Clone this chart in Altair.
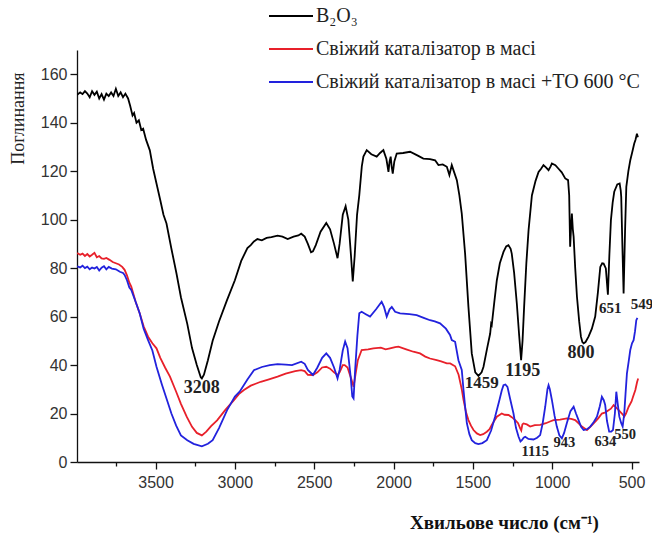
import altair as alt
import pandas as pd

# ---------------- data ----------------
series_names = ["B₂O₃", "Свіжий каталізатор в масі", "Свіжий каталізатор в масі +ТО 600 °С"]
series_colors = ["#000000", "#e8202a", "#2222dd"]

b2o3_wn = [3994, 3975, 3960, 3945, 3930, 3915, 3900, 3885, 3870, 3855, 3840, 3825, 3810, 3795, 3780,
           3765, 3750, 3735, 3720, 3705, 3690, 3673, 3660, 3645, 3635, 3620, 3605, 3590, 3578, 3560,
           3536, 3515, 3494, 3470, 3450, 3431, 3400, 3368, 3340, 3300, 3270, 3240, 3215, 3208, 3195,
           3170, 3140, 3100, 3049, 3000, 2960, 2921, 2900, 2880, 2858, 2830, 2800, 2770, 2731, 2700,
           2667, 2630, 2600, 2582, 2560, 2540, 2520, 2508, 2490, 2460, 2424, 2400, 2375, 2353, 2340,
           2320, 2302, 2285, 2268, 2257, 2245, 2230, 2216, 2200, 2190, 2169, 2140, 2106, 2085, 2064,
           2045, 2032, 2025, 2018, 2012, 2005, 1995, 1980, 1940, 1896, 1850, 1812, 1770, 1738, 1717,
           1690, 1664, 1648, 1633, 1615, 1601, 1585, 1570, 1549, 1528, 1507, 1485, 1465, 1445, 1433,
           1410, 1391, 1385, 1381, 1365, 1349, 1330, 1307, 1290, 1276, 1262, 1255, 1240, 1223, 1208,
           1196, 1187, 1177, 1163, 1149, 1128, 1105, 1086, 1070, 1055, 1038, 1023, 1010, 1002, 980,
           960, 940, 918, 900, 893, 887, 881, 876, 870, 865, 855, 844, 830, 819, 810,
           802, 790, 771, 750, 729, 712, 697, 685, 676, 662, 655, 649, 640, 630, 619,
           609, 590, 575, 568, 565, 558, 550, 541, 533, 520, 508, 495, 483, 475, 466, 460]
b2o3_val = [151.5, 152.5, 151.8, 153, 152, 150.5, 153, 151.5, 152.8, 150, 151.8, 149.5, 152, 151, 152.5,
            151, 154, 151, 152.5, 150.5, 152, 150, 147, 143, 144, 140, 141, 137, 137.5, 133,
            128.6, 121, 114.9, 108, 102, 98.4, 88, 77.8, 68, 57, 47, 40, 35, 34.5, 36,
            42, 50, 58, 66.9, 75, 83, 88.3, 89.5, 91, 92, 91.5, 92.5, 92.8, 93.4, 93,
            92, 93, 93.5, 94.2, 93, 90, 86.5, 86.9, 89.5, 95, 98.6, 96, 90, 84.1, 90,
            102, 105.5, 100, 85, 74.5, 85, 102, 110, 122, 126, 128.7, 127, 126, 127.5, 128.7,
            125, 119.7, 124, 126, 122, 119, 124, 127.3, 127.5, 128, 126.5, 125.2, 125, 124.5, 122.5,
            122.8, 121.8, 118.4, 122.5, 119, 116.3, 110, 102.5, 86, 64, 44.8, 37, 35.5, 37, 39.3,
            47, 53, 57, 56.5, 66, 75, 82, 86.7, 89, 89.5, 88, 86, 78, 65.4, 52,
            42, 50, 64, 82, 95.7, 110, 116, 119.7, 121, 122.5, 121.5, 120.4, 122, 123.2, 122.5,
            121, 119.5, 117, 116.3, 110, 88.8, 97, 102.5, 96, 93, 80, 68.2, 58, 51.7, 49.5,
            49, 49.5, 51.7, 55, 60, 70, 80.5, 82, 81.9, 79.9, 74, 69, 85, 99.8, 107,
            111.5, 114.5, 114.9, 112, 109.4, 90, 69.5, 95, 113.5, 120, 124.5, 128, 131.4, 133, 135.5, 134]

fresh_wn = [3994, 3975, 3960, 3945, 3930, 3915, 3900, 3885, 3870, 3855, 3840, 3825, 3810, 3790, 3770,
            3750, 3730, 3710, 3695, 3680, 3665, 3653, 3625, 3600, 3575, 3547, 3520, 3494, 3470, 3440,
            3409, 3370, 3340, 3303, 3270, 3240, 3208, 3180, 3150, 3112, 3060, 3006, 2975, 2943, 2900,
            2837, 2790, 2731, 2680, 2620, 2582, 2560, 2540, 2508, 2480, 2450, 2424, 2400, 2375, 2353,
            2340, 2320, 2308, 2290, 2265, 2252, 2240, 2225, 2201, 2160, 2127, 2080, 2050, 2022, 1990,
            1969, 1920, 1875, 1833, 1800, 1770, 1728, 1700, 1664, 1643, 1612, 1590, 1570, 1559, 1543,
            1528, 1512, 1496, 1475, 1454, 1435, 1412, 1395, 1381, 1365, 1349, 1330, 1318, 1300, 1275,
            1255, 1233, 1215, 1202, 1195, 1188, 1181, 1160, 1139, 1110, 1076, 1040, 1010, 992, 950,
            908, 880, 855, 835, 813, 795, 781, 760, 739, 710, 687, 665, 645, 630, 613,
            590, 571, 558, 546, 535, 518, 500, 490, 476, 465, 458]
fresh_val = [86.2, 85.5, 86, 85, 85.8, 84.8, 85.5, 86.3, 84.5, 85, 84, 83.8, 84.2, 83.4, 82.5,
             82, 81.5, 80.5, 79.3, 77, 74, 72.4, 66, 61.4, 56, 51.7, 49, 46.9, 43, 39,
             35.2, 29, 24, 18.6, 14.5, 12, 11, 12.5, 14.8, 17.2, 21.5, 25.5, 28, 29.7, 31.5,
             33.1, 34, 35.2, 36.5, 37.5, 37.9, 37.5, 36, 35.9, 37, 39, 39.3, 38.5, 37, 35.9,
             37, 40, 40, 39, 34, 31, 36, 42, 46.2, 46.5, 46.9, 47.2, 46.5, 46.9, 47.4,
             47.6, 46.5, 45.5, 44.8, 43.5, 42.7, 42, 41.5, 40.7, 40.7, 39.5, 36, 30, 25.6, 20.5,
             17.3, 15, 13.2, 11.8, 11.1, 11.5, 12.5, 13.5, 15.3, 17, 18.7, 19.5, 20, 19.5, 19.4,
             18.5, 17.3, 16, 13.9, 13, 15.5, 15.9, 15.5, 14.6, 15.2, 15.3, 16, 16.8, 17.3, 17.5,
             18, 17.8, 17.3, 16, 14.6, 13.8, 13.2, 14.5, 15.9, 18, 20, 20.5, 21.4, 22, 23.5,
             22, 20.7, 19.8, 18.7, 20, 22.8, 25, 27, 29.7, 33, 34.5]

heated_wn = [3994, 3975, 3960, 3945, 3930, 3915, 3900, 3885, 3870, 3855, 3840, 3825, 3810, 3795, 3775,
             3750, 3725, 3705, 3695, 3680, 3665, 3653, 3625, 3600, 3575, 3547, 3520, 3494, 3460, 3430,
             3400, 3370, 3340, 3300, 3260, 3208, 3170, 3140, 3100, 3049, 3000, 2970, 2921, 2880, 2830,
             2780, 2731, 2680, 2640, 2582, 2560, 2540, 2508, 2480, 2450, 2424, 2400, 2375, 2353, 2340,
             2320, 2305, 2290, 2270, 2260, 2252, 2242, 2228, 2216, 2201, 2175, 2148, 2110, 2075, 2060,
             2043, 2025, 2011, 1990, 1959, 1900, 1854, 1810, 1770, 1740, 1707, 1670, 1644, 1633, 1612,
             1591, 1570, 1559, 1549, 1538, 1522, 1507, 1485, 1465, 1440, 1412, 1385, 1360, 1335, 1318,
             1307, 1295, 1282, 1265, 1244, 1228, 1212, 1200, 1191, 1180, 1170, 1150, 1118, 1095, 1076,
             1060, 1044, 1030, 1023, 1015, 1002, 985, 971, 955, 939, 925, 908, 885, 865, 850,
             834, 818, 802, 780, 760, 738, 718, 700, 687, 675, 666, 655, 641, 628, 617,
             605, 596, 587, 577, 565, 556, 546, 538, 529, 518, 508, 497, 487, 478, 470, 463]
heated_val = [80.7, 80.3, 81, 80, 80.6, 79.5, 80.2, 79.8, 80.5, 79, 80.2, 80.8, 79.5, 80.5, 79.8,
              79.5, 78.5, 78, 77.2, 75, 72, 71, 66, 61.4, 55, 50.3, 46, 39.3, 32, 26,
              20, 15, 11, 9, 7.5, 6.5, 7.5, 9, 14, 21.4, 27, 29, 34, 37.9, 39.2,
              40, 40.4, 40.2, 40, 41.4, 40.5, 38, 35.9, 39, 43, 44.8, 43, 39, 34.5, 38,
              46, 49.7, 47, 35, 27, 26.2, 38, 52, 61.4, 62, 61, 60, 63, 66.1, 64,
              60, 63, 64, 62, 61.3, 61, 60.6, 59.5, 58.5, 58, 57.2, 55, 52.4, 50.3, 49.6,
              42, 38, 29.7, 23, 16, 11.5, 9, 7.8, 7.4, 7.8, 9, 13, 18.7, 25, 29.5,
              31.7, 32, 31, 26, 20, 14, 10.4, 8.5, 9, 10, 10.4, 9.5, 9.3, 10, 11.1,
              16, 22.8, 30, 31.7, 30, 25.6, 19, 14.6, 11, 9.8, 12, 16, 21, 22.8, 20,
              17.3, 14.5, 13.2, 13.5, 14.6, 16.5, 18.7, 23, 26.9, 25.5, 23.5, 17, 12.5, 12.5, 13.2,
              20, 29, 24, 18.7, 16, 14.6, 20, 28, 36.6, 41.5, 46.2, 49, 50.3, 54, 58.5, 59.5]

# peak annotations
label_text = ["3208", "1459", "1195", "800", "651", "549", "1115", "943", "634", "550"]
label_wn = [3208, 1444, 1185, 818, 634, 434, 1107, 924, 665, 540]
label_val = [30.4, 32.6, 37.6, 44.8, 63.4, 65.2, 4.3, 7.7, 8.4, 11.1]
label_size = [18, 17, 18, 18, 15, 15, 14.5, 14.5, 14.5, 14.5]

x_ticks = [3750, 3500, 3250, 3000, 2750, 2500, 2250, 2000, 1750, 1500, 1250, 1000, 750, 500]
y_ticks = [0, 10, 20, 30, 40, 50, 60, 70, 80, 90, 100, 110, 120, 130, 140, 150, 160]

# ---------------- tables ----------------
rows = []
for name, wns, vals in [(series_names[0], b2o3_wn, b2o3_val),
                        (series_names[1], fresh_wn, fresh_val),
                        (series_names[2], heated_wn, heated_val)]:
    for i, (w, v) in enumerate(zip(wns, vals)):
        rows.append({"series": name, "wn": w, "val": v, "order": i})
spectra = pd.DataFrame(rows)
labels = pd.DataFrame({"text": label_text, "wn": label_wn, "val": label_val, "size": label_size})

x_scale = alt.Scale(domain=[453, 3995], reverse=True, nice=False, zero=False)
y_scale = alt.Scale(domain=[0, 170], nice=False)

x_axis = alt.Axis(
    values=x_ticks,
    labelExpr="datum.value % 500 === 0 ? datum.label : ''",
    tickSize={"condition": {"test": "datum.value % 500 === 0", "value": 7}, "value": 4},
    format="d",
    grid=False,
    title="Хвильове число (см⁻¹)",
    titleFont="Liberation Serif",
    titleFontWeight="bold",
    titleFontSize=19,
    titleColor="#111111",
    titleX=427,
    titleY=60,
    titleAlign="center",
    titleBaseline="middle",
    labelOverlap=False,
)
y_axis = alt.Axis(
    values=y_ticks,
    labelExpr="datum.value % 20 === 0 ? datum.label : ''",
    tickSize={"condition": {"test": "datum.value % 20 === 0", "value": 7}, "value": 4},
    grid=False,
    title="Поглинання",
    titleFont="Liberation Serif",
    titleFontWeight="normal",
    titleFontSize=18,
    titleColor="#222222",
    titleX=-59,
    titleY=68,
    titleAngle=-90,
    titleAlign="center",
    titleBaseline="middle",
    labelOverlap=False,
)

lines = alt.Chart(spectra).mark_line(strokeWidth=1.8, clip=True).encode(
    x=alt.X("wn:Q", scale=x_scale, axis=x_axis),
    y=alt.Y("val:Q", scale=y_scale, axis=y_axis),
    color=alt.Color(
        "series:N",
        scale=alt.Scale(domain=series_names, range=series_colors),
        legend=alt.Legend(
            title=None,
            orient="none",
            legendX=191,
            legendY=-57,
            symbolType="stroke",
            symbolSize=1936,
            symbolStrokeWidth=2,
            labelFont="Liberation Serif",
            labelFontSize=20,
            labelColor="#222222",
            labelOffset=2,
            rowPadding=-3,
            labelLimit=500,
        ),
    ),
    order="order:Q",
)

texts = alt.Chart(labels).mark_text(
    font="Liberation Serif", fontWeight="bold", color="#222222", align="center", baseline="middle"
).encode(
    x=alt.X("wn:Q", scale=x_scale),
    y=alt.Y("val:Q", scale=y_scale),
    text="text:N",
    size=alt.Size("size:Q", scale=None, legend=None),
)

chart = (
    alt.layer(lines, texts)
    .properties(width=562, height=412, autosize=alt.AutoSizeParams(type="none"),
                padding={"left": 77, "top": 50, "right": 13, "bottom": 72})
    .configure_view(stroke=None)
    .configure_axis(
        domainColor="#111111",
        domainWidth=1.3,
        tickColor="#111111",
        tickWidth=1.3,
        labelFont="Liberation Sans",
        labelFontSize=16,
        labelColor="#333333",
        labelPadding=3,
    )
    .configure_axisX(labelPadding=5)
)

chart.save("out.html", embed_options={"renderer": "svg", "actions": False})
